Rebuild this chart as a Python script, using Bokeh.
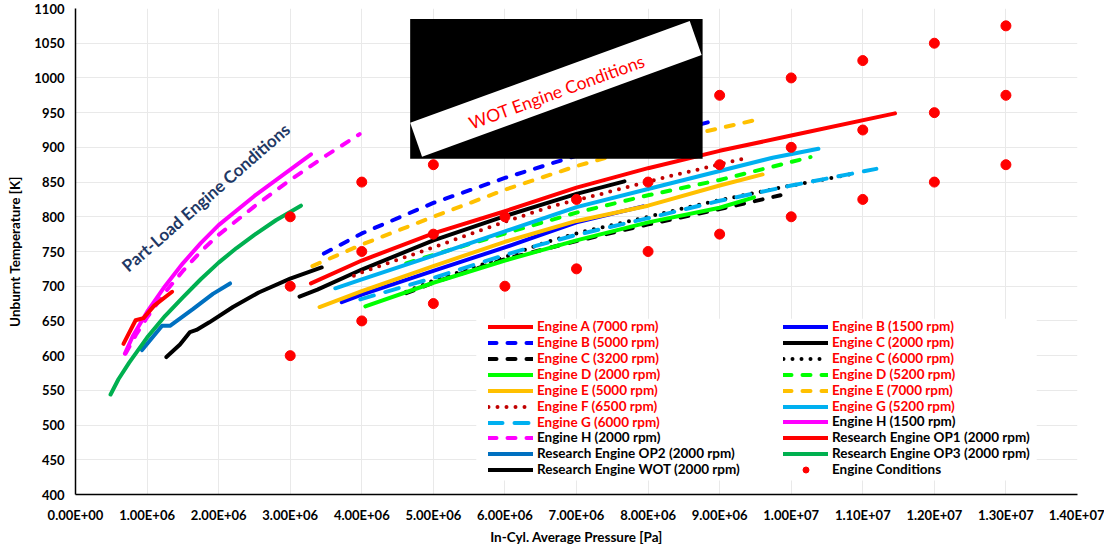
from bokeh.plotting import figure
from bokeh.models import (Range1d, FixedTicker, Legend, LegendItem, BoxAnnotation,
                          PolyAnnotation, Label)
from bokeh.embed import file_html
from bokeh.resources import INLINE

FONT = "Lato"

# ---------------- axes ----------------
x_ticks = [0.0, 1e6, 2e6, 3e6, 4e6, 5e6, 6e6, 7e6, 8e6, 9e6, 1e7, 1.1e7, 1.2e7, 1.3e7, 1.4e7]
x_tick_labels = ["0.00E+00", "1.00E+06", "2.00E+06", "3.00E+06", "4.00E+06", "5.00E+06",
                 "6.00E+06", "7.00E+06", "8.00E+06", "9.00E+06", "1.00E+07", "1.10E+07",
                 "1.20E+07", "1.30E+07", "1.40E+07"]
y_ticks = [400, 450, 500, 550, 600, 650, 700, 750, 800, 850, 900, 950, 1000, 1050, 1100]

# ---------------- data (pressure [Pa], temperature [K]) ----------------
engA_7000_p = [3.29e6, 4.0e6, 5.0e6, 6.0e6, 7.0e6, 8.0e6, 9.0e6, 10.0e6, 11.45e6]
engA_7000_T = [704, 737, 776, 808, 842, 870, 895, 917, 949]

engB_1500_p = [3.72e6, 4.0e6, 5.0e6, 6.0e6, 7.0e6, 7.93e6]
engB_1500_T = [677, 688, 722, 756, 792, 815]

engB_5000_p = [3.47e6, 4.0e6, 5.0e6, 6.0e6, 7.0e6, 8.0e6, 8.95e6]
engB_5000_T = [747, 776, 820, 856, 888, 914, 939]

engC_2000_p = [3.13e6, 3.38e6, 4.0e6, 5.0e6, 6.0e6, 7.0e6, 7.67e6]
engC_2000_T = [685, 695, 724, 766, 801, 833, 851]

engC_3200_p = [4.62e6, 5.0e6, 6.0e6, 7.0e6, 8.0e6, 9.0e6, 9.85e6]
engC_3200_T = [690, 705, 739, 765, 789, 811, 831]

engC_6000_p = [4.62e6, 5.0e6, 6.0e6, 6.56e6, 7.11e6, 7.67e6, 8.45e6, 9.0e6, 9.9e6, 10.87e6]
engC_6000_T = [692, 708, 742, 763, 779, 792, 811, 824, 843, 862]

engD_2000_p = [4.05e6, 5.0e6, 6.0e6, 7.0e6, 8.0e6, 9.0e6, 9.48e6]
engD_2000_T = [671, 705, 737, 766, 792, 813, 828]

engD_5200_p = [4.62e6, 5.0e6, 6.0e6, 7.0e6, 8.0e6, 9.0e6, 10.27e6]
engD_5200_T = [733, 745, 776, 806, 831, 853, 886]

engE_5000_p = [3.41e6, 4.0e6, 5.0e6, 6.0e6, 7.0e6, 8.0e6, 9.0e6, 9.6e6]
engE_5000_T = [670, 693, 729, 764, 794, 816, 845, 861]

engE_7000_p = [3.31e6, 4.0e6, 5.0e6, 6.0e6, 7.0e6, 8.0e6, 8.72e6, 9.53e6]
engE_7000_T = [729, 760, 800, 839, 873, 902, 921, 940]

engF_6500_p = [3.89e6, 4.0e6, 5.0e6, 6.0e6, 6.69e6, 7.35e6, 7.87e6, 8.4e6, 8.82e6, 9.34e6]
engF_6500_T = [715, 720, 756, 793, 816, 833, 847, 861, 871, 884]

engG_5200_p = [3.63e6, 4.0e6, 5.0e6, 6.0e6, 7.0e6, 8.0e6, 9.0e6, 9.74e6, 10.38e6]
engG_5200_T = [697, 710, 744, 779, 814, 840, 866, 885, 898]

engG_6000_p = [3.98e6, 5.0e6, 6.0e6, 6.43e6, 7.0e6, 8.0e6, 9.0e6, 10.0e6, 11.19e6]
engG_6000_T = [681, 712, 745, 758, 774, 798, 823, 845, 869]

engH_1500_p = [0.69e6, 0.8e6, 1.0e6, 1.25e6, 1.5e6, 1.75e6, 2.0e6, 2.5e6, 3.0e6, 3.29e6]
engH_1500_T = [603, 628, 663, 700, 733, 762, 788, 830, 868, 890]

engH_2000_p = [0.70e6, 0.85e6, 1.0e6, 1.25e6, 1.5e6, 1.75e6, 2.0e6, 2.5e6, 3.0e6, 3.5e6, 3.97e6]
engH_2000_T = [603, 631, 655, 691, 722, 750, 774, 815, 853, 888, 919]

op1_p = [0.67e6, 0.84e6, 0.95e6, 1.1e6, 1.35e6]
op1_T = [617, 651, 654, 672, 692]

op2_p = [0.93e6, 1.21e6, 1.32e6, 1.64e6, 1.92e6, 2.16e6]
op2_T = [608, 643, 643, 667, 689, 704]

op3_p = [0.49e6, 0.6e6, 0.75e6, 1.0e6, 1.25e6, 1.5e6, 1.75e6, 2.0e6, 2.25e6, 2.5e6, 2.8e6, 3.15e6]
op3_T = [544, 566, 590, 626, 657, 684, 710, 734, 755, 774, 795, 816]

wot_p = [1.27e6, 1.46e6, 1.6e6, 1.69e6, 1.87e6, 2.2e6, 2.56e6, 3.0e6, 3.44e6]
wot_T = [598, 616, 634, 637, 648, 670, 691, 711, 727]

cond_p = [3e6, 3e6, 3e6, 4e6, 4e6, 4e6, 5e6, 5e6, 5e6, 6e6, 6e6, 6e6, 7e6, 7e6, 7e6,
          8e6, 8e6, 8e6, 9e6, 9e6, 9e6, 1e7, 1e7, 1e7, 1.1e7, 1.1e7, 1.1e7,
          1.2e7, 1.2e7, 1.2e7, 1.3e7, 1.3e7, 1.3e7]
cond_T = [600, 700, 800, 650, 750, 850, 675, 775, 875, 700, 800, 900, 725, 825, 925,
          750, 850, 950, 775, 875, 975, 800, 900, 1000, 825, 925, 1025,
          850, 950, 1050, 875, 975, 1075]

# ---------------- figure ----------------
p = figure(width=1104, height=547, output_backend="svg", toolbar_location=None,
           x_range=Range1d(0, 1.4e7), y_range=Range1d(400, 1100),
           min_border_left=75, min_border_right=27, min_border_top=8, min_border_bottom=53)
p.outline_line_color = None
p.background_fill_color = "white"

p.xaxis.ticker = FixedTicker(ticks=x_ticks)
p.xaxis.major_label_overrides = {t: l for t, l in zip(x_ticks, x_tick_labels)}
p.yaxis.ticker = FixedTicker(ticks=y_ticks)
p.xgrid.ticker = FixedTicker(ticks=x_ticks)
p.ygrid.ticker = FixedTicker(ticks=y_ticks)
p.grid.grid_line_color = "#e9e9e9"
p.grid.grid_line_width = 1

for ax in (p.xaxis[0], p.yaxis[0]):
    ax.axis_line_color = "black"
    ax.axis_line_width = 1.5
    ax.major_tick_line_color = None
    ax.minor_tick_line_color = None
    ax.major_tick_out = 0
    ax.major_tick_in = 0
    ax.major_label_text_font = FONT
    ax.major_label_text_font_style = "bold"
    ax.major_label_text_font_size = "13px"
    ax.major_label_text_color = "black"
    ax.axis_label_text_font = FONT
    ax.axis_label_text_font_style = "bold"
    ax.axis_label_text_font_size = "13.5px"
    ax.axis_label_text_color = "black"

p.xaxis.axis_label = "In-Cyl. Average Pressure [Pa]"
p.yaxis.axis_label = "Unburnt Temperature [K]"
p.xaxis.major_label_standoff = 12
p.xaxis.axis_label_standoff = 3
p.yaxis.major_label_standoff = 11
p.yaxis.axis_label_standoff = 8

DASH = "8 11"
DOT = "0 9"
LONG = "14 12"

series = [
    ("A7000", engA_7000_p, engA_7000_T, "#ff0000", "solid", "Engine A (7000 rpm)"),
    ("B1500", engB_1500_p, engB_1500_T, "#0000ff", "solid", "Engine B (1500 rpm)"),
    ("B5000", engB_5000_p, engB_5000_T, "#0000ff", DASH, "Engine B (5000 rpm)"),
    ("C2000", engC_2000_p, engC_2000_T, "#000000", "solid", "Engine C (2000 rpm)"),
    ("C3200", engC_3200_p, engC_3200_T, "#000000", DASH, "Engine C (3200 rpm)"),
    ("C6000", engC_6000_p, engC_6000_T, "#000000", DOT, "Engine C (6000 rpm)"),
    ("D2000", engD_2000_p, engD_2000_T, "#00ff00", "solid", "Engine D (2000 rpm)"),
    ("D5200", engD_5200_p, engD_5200_T, "#00ff00", DASH, "Engine D (5200 rpm)"),
    ("E5000", engE_5000_p, engE_5000_T, "#ffc000", "solid", "Engine E (5000 rpm)"),
    ("E7000", engE_7000_p, engE_7000_T, "#ffc000", DASH, "Engine E (7000 rpm)"),
    ("F6500", engF_6500_p, engF_6500_T, "#c00000", DOT, "Engine F (6500 rpm)"),
    ("G5200", engG_5200_p, engG_5200_T, "#00b0f0", "solid", "Engine G (5200 rpm)"),
    ("G6000", engG_6000_p, engG_6000_T, "#00b0f0", LONG, "Engine G (6000 rpm)"),
    ("H1500", engH_1500_p, engH_1500_T, "#ff00ff", "solid", "Engine H (1500 rpm)"),
    ("H2000", engH_2000_p, engH_2000_T, "#ff00ff", DASH, "Engine H (2000 rpm)"),
    ("OP1", op1_p, op1_T, "#ff0000", "solid", "Research Engine OP1 (2000 rpm)"),
    ("OP2", op2_p, op2_T, "#0070c0", "solid", "Research Engine OP2 (2000 rpm)"),
    ("OP3", op3_p, op3_T, "#00b050", "solid", "Research Engine OP3 (2000 rpm)"),
    ("WOT", wot_p, wot_T, "#000000", "solid", "Research Engine WOT (2000 rpm)"),
]

rend = {}
for key, xs, ys, col, dash, lab in series:
    r = p.line(x=xs, y=ys, line_color=col, line_width=4, line_dash=dash,
               line_cap="round", line_join="round")
    rend[key] = (r, lab)

r_cond = p.scatter(x=cond_p, y=cond_T, size=10, marker="circle",
                   fill_color="#ff0000", line_color="#ff0000")
rend["COND"] = (r_cond, "Engine Conditions")

# ---------------- WOT label box ----------------
p.add_layout(BoxAnnotation(left=4.676e6, right=8.762e6, bottom=883.5, top=1084.9,
                           fill_color="black", fill_alpha=1.0, line_color=None))
p.add_layout(PolyAnnotation(xs=[4.676e6, 4.842e6, 8.748e6, 8.582e6],
                            ys=[935.3, 886.3, 1033.1, 1082.0],
                            fill_color="white", fill_alpha=1.0, line_color=None))
p.add_layout(Label(x=6.726e6, y=980, text="WOT Engine Conditions", angle=20,
                   angle_units="deg", text_align="center", text_baseline="middle",
                   text_font=FONT, text_font_size="17.5px", text_color="#ff0000"))
p.add_layout(Label(x=1.82e6, y=828, text="Part-Load Engine Conditions", angle=41,
                   angle_units="deg", text_align="center", text_baseline="middle",
                   text_font=FONT, text_font_size="17px", text_font_style="bold",
                   text_color="#1f3864"))

# ---------------- legend ----------------
p.add_layout(BoxAnnotation(left=5.6e6, right=13.43e6, bottom=420, top=653,
                           fill_color="white", fill_alpha=1.0, line_color=None))


def items(keys):
    return [LegendItem(label=rend[k][1], renderers=[rend[k][0]]) for k in keys]


def mk_legend(keys, loc, color):
    return Legend(items=items(keys), location=loc, orientation="vertical",
                  label_text_font=FONT, label_text_font_style="bold",
                  label_text_font_size="13.5px", label_text_color=color,
                  glyph_width=45, glyph_height=15, label_height=15,
                  label_standoff=4, spacing=0, padding=0, margin=0,
                  background_fill_alpha=0, border_line_color=None)


p.add_layout(mk_legend(["A7000", "B5000", "C3200", "D2000", "E5000", "F6500", "G6000"],
                       (413, 64), "#ff0000"), "center")
p.add_layout(mk_legend(["H2000", "OP2", "WOT"], (413, 17), "#000000"), "center")
p.add_layout(mk_legend(["B1500", "C2000", "C6000", "D5200", "E7000", "G5200"],
                       (708, 80), "#ff0000"), "center")
p.add_layout(mk_legend(["H1500", "OP1", "OP3", "COND"], (708, 17), "#000000"), "center")

open("out.html", "w").write(file_html(p, INLINE))
